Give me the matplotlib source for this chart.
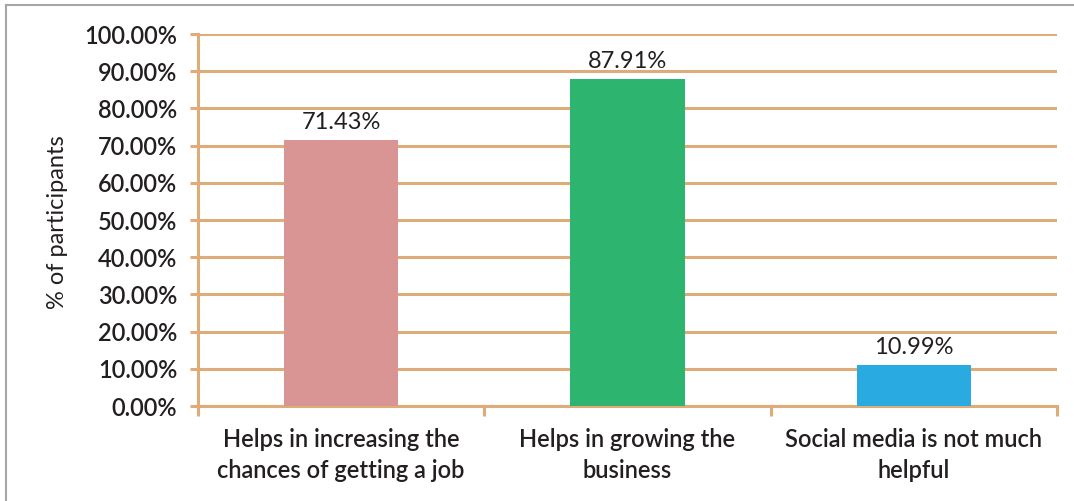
import matplotlib
matplotlib.use("Agg")
import matplotlib.pyplot as plt
from matplotlib.lines import Line2D
from matplotlib.ticker import FuncFormatter, MultipleLocator

categories = ["Helps in increasing the\nchances of getting a job",
              "Helps in growing the\nbusiness",
              "Social media is not much\nhelpful"]
values = [71.43, 87.91, 10.99]
bar_colors = ["#D99594", "#2DB56F", "#29ABE2"]

grid_color = "#DEAC78"
text_color = "#231F20"

plt.rcParams["font.family"] = ["Lato", "DejaVu Sans"]

fig = plt.figure(figsize=(10.74, 5.01), dpi=100)
ax = fig.add_axes([198 / 1074, 1 - 406 / 501, (1057 - 198) / 1074, (406 - 34) / 501])

x = range(len(categories))
ax.bar(x, values, width=0.4, color=bar_colors, zorder=3)

ax.set_xlim(-0.5, len(categories) - 0.5)
ax.set_ylim(0, 100)
ax.yaxis.set_major_locator(MultipleLocator(10))
ax.yaxis.set_major_formatter(FuncFormatter(lambda v, _: f"{v:.2f}%"))
ax.grid(axis="y", color=grid_color, linewidth=2.2, zorder=0)
ax.set_axisbelow(True)

for s in ("top", "right"):
    ax.spines[s].set_visible(False)
for s in ("left", "bottom"):
    ax.spines[s].set_color(grid_color)
    ax.spines[s].set_linewidth(2.2)

ax.tick_params(axis="y", length=6, width=2.2, color=grid_color,
               labelsize=17, labelcolor=text_color, pad=9)
for lab in ax.get_yticklabels():
    lab.set_fontweight("semibold")

# category boundary ticks
ax.set_xticks([i - 0.5 for i in range(len(categories) + 1)])
ax.set_xticklabels([])
ax.tick_params(axis="x", length=7, width=2.2, color=grid_color, direction="out")
for i, c in enumerate(categories):
    ax.text(i, -6.0, c, ha="center", va="top", fontsize=17,
            color=text_color, fontweight="semibold", linespacing=1.4)

for i, v in enumerate(values):
    ax.text(i, v + 2.0, f"{v:.2f}%", ha="center", va="bottom",
            fontsize=17, color=text_color)

fig.text(58 / 1074, 1 - 222 / 501, "% of participants", rotation=90,
         ha="center", va="center", fontsize=17, color=text_color)

# outer frame
fig.add_artist(Line2D([6 / 1074, 1], [1 - 5 / 501, 1 - 5 / 501],
                      transform=fig.transFigure, color="#A6A6A6", linewidth=1.5))
fig.add_artist(Line2D([6 / 1074, 6 / 1074], [0, 1 - 5 / 501],
                      transform=fig.transFigure, color="#A6A6A6", linewidth=1.5))

fig.savefig("out.png", dpi=100, facecolor="white")
